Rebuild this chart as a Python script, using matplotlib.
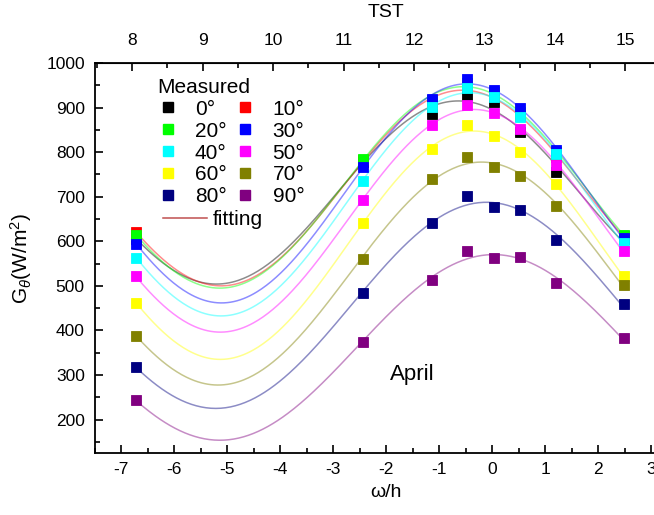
import numpy as np
import matplotlib
matplotlib.use('Agg')
import matplotlib.pyplot as plt
from matplotlib.lines import Line2D
from matplotlib.ticker import MultipleLocator

plt.rcParams['font.family'] = ['Liberation Sans', 'DejaVu Sans']
plt.rcParams['mathtext.fontset'] = 'custom'
plt.rcParams['mathtext.rm'] = 'Liberation Sans'
plt.rcParams['mathtext.it'] = 'Liberation Sans:italic'
plt.rcParams['axes.unicode_minus'] = False

# hour angle of each measurement (h)
omega = [-6.72, -2.43, -1.13, -0.47, 0.03, 0.52, 1.20, 2.49]

# measured irradiance on the tilted plane (W/m2), one list per tilt angle
g_0 = [605, 778, 886, 928, 912, 845, 756, 606]
g_10 = [621, 782, 910, 948, 928, 880, 790, 612]
g_20 = [615, 785, 918, 955, 935, 890, 800, 615]
g_30 = [595, 767, 920, 965, 940, 900, 805, 607]
g_40 = [563, 736, 902, 944, 924, 879, 796, 597]
g_50 = [521, 693, 861, 905, 888, 853, 772, 579]
g_60 = [462, 642, 806, 861, 837, 801, 729, 521]
g_70 = [388, 561, 739, 790, 767, 747, 680, 503]
g_80 = [317, 483, 642, 702, 678, 671, 603, 460]
g_90 = [243, 375, 514, 579, 563, 565, 507, 384]

tilts = ['0°', '10°', '20°', '30°', '40°', '50°', '60°', '70°', '80°', '90°']
series = [g_0, g_10, g_20, g_30, g_40, g_50, g_60, g_70, g_80, g_90]
colors = ['#000000', '#ff0000', '#00ff00', '#0000ff', '#00ffff',
          '#ff00ff', '#ffff00', '#808000', '#000080', '#800080']

# TST <-> hour angle for the top axis
def to_tst(w):
    return 8 + (np.asarray(w) + 6.79) * 0.752

def to_omega(t):
    return (np.asarray(t) - 8) / 0.752 - 6.79


def sine_fit(x, y):
    # y = a + b*cos(kx) + c*sin(kx); scan k, linear least squares for the rest
    x = np.asarray(x, float)
    y = np.asarray(y, float)
    best = None
    for k in np.linspace(0.45, 0.85, 401):
        A = np.column_stack([np.ones_like(x), np.cos(k * x), np.sin(k * x)])
        coef, *_ = np.linalg.lstsq(A, y, rcond=None)
        res = np.sum((A @ coef - y) ** 2)
        if best is None or res < best[0]:
            best = (res, k, coef)
    _, k, (a, b, c) = best
    return lambda t: a + b * np.cos(k * t) + c * np.sin(k * t)


fig = plt.figure(figsize=(6.54, 5.15), dpi=100)
ax = fig.add_axes([94.5 / 654, 1 - 453 / 515, 583 / 654, 390 / 515])

xs = np.linspace(omega[0], omega[-1], 300)
handles = []
for g, c in zip(series, colors):
    f = sine_fit(omega, g)
    ax.plot(xs, f(xs), color=c, lw=1.1, alpha=0.45, zorder=2)
for g, c, lab in zip(series, colors, tilts):
    ax.plot(omega, g, linestyle='none', marker='s', ms=7, mfc=c,
            mec=c, mew=0.6, zorder=3)
    handles.append(Line2D([], [], linestyle='none', marker='s', ms=6.5,
                          mfc=c, mec=c, label=lab))

ax.set_xlim(-7.5, 3.5)
ax.set_ylim(125, 1000)
ax.xaxis.set_major_locator(MultipleLocator(1))
ax.xaxis.set_minor_locator(MultipleLocator(0.5))
ax.yaxis.set_minor_locator(MultipleLocator(50))
ax.set_yticks(range(200, 1001, 100))
ax.tick_params(which='both', direction='in', top=False, right=False,
               labelsize=12.5, width=1.2)
ax.tick_params(which='major', length=6)
ax.tick_params(which='minor', length=3.5)
ax.tick_params(axis='x', pad=6.5)
ax.tick_params(axis='y', pad=7)
for s in ax.spines.values():
    s.set_linewidth(1.3)

ax.set_xlabel('ω/h', fontsize=14, labelpad=5)
ax.set_ylabel(r'G$_{\theta}$(W/m$^2$)', fontsize=15, labelpad=9)

top = ax.secondary_xaxis('top', functions=(to_tst, to_omega))
top.set_xticks(range(8, 16))
top.xaxis.set_minor_locator(MultipleLocator(0.5))
top.tick_params(which='both', direction='in', labelsize=12.5, width=1.2, pad=11)
top.tick_params(which='major', length=6)
top.tick_params(which='minor', length=3.5)
top.set_xlabel('TST', fontsize=14, labelpad=11)

ax.text(-1.92, 301, 'April', fontsize=16, ha='left', va='center')

# legend: measured markers in two columns, then the fitting line
order = [0, 2, 4, 6, 8, 1, 3, 5, 7, 9]
leg = ax.legend([handles[i] for i in order], [tilts[i] for i in order],
                ncol=2, title='Measured', title_fontsize=15, fontsize=15,
                frameon=False, loc='upper left', bbox_to_anchor=(0.108, 0.962),
                handlelength=1.0, handletextpad=0.8, columnspacing=0.4,
                labelspacing=0.14, alignment='left', borderaxespad=0,
                borderpad=0)
ax.add_artist(leg)
fit_handle = Line2D([], [], color='#c05050', lw=1.1)
ax.legend([fit_handle], ['fitting'], fontsize=15, frameon=False,
          loc='upper left', bbox_to_anchor=(0.1175, 0.623),
          handlelength=2.1, handletextpad=0.3, borderaxespad=0, borderpad=0)

fig.savefig('out.png', dpi=100)
